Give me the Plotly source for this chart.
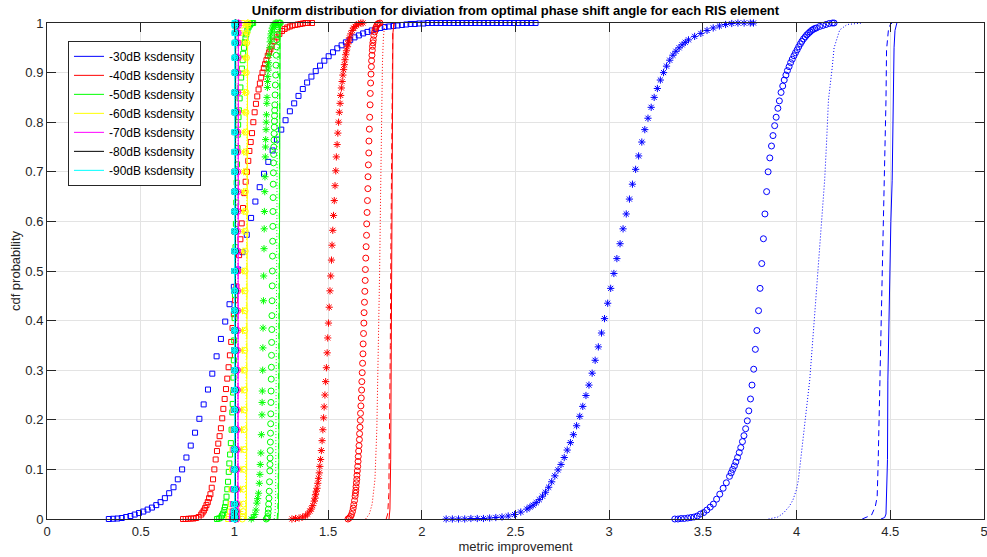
import plotly.graph_objects as go

# ---------------- shared y levels (cdf probabilities) ----------------
LEVELS = [0, 0.005, 0.015, 0.03, 0.06, 0.1, 0.14, 0.18, 0.22, 0.26, 0.3, 0.34, 0.38, 0.42, 0.46, 0.5,
          0.54, 0.58, 0.62, 0.66, 0.7, 0.74, 0.78, 0.82, 0.86, 0.9, 0.93, 0.96, 0.98, 0.995, 1]
LINE_LEVELS = [0, 0.02, 0.1, 0.25, 0.5, 0.75, 0.9, 0.98, 1]

LEGEND_NAMES = ["-30dB ksdensity", "-40dB ksdensity", "-50dB ksdensity", "-60dB ksdensity",
                "-70dB ksdensity", "-80dB ksdensity", "-90dB ksdensity"]
COLORS = ["#0000ff", "#ff0000", "#00ff00", "#ffff00", "#ff00ff", "#000000", "#00ffff"]

X_TICKS = [0, 0.5, 1, 1.5, 2, 2.5, 3, 3.5, 4, 4.5, 5]
Y_TICKS = [0, 0.1, 0.2, 0.3, 0.4, 0.5, 0.6, 0.7, 0.8, 0.9, 1]

# ---------------- -30 dB ----------------
db30_solid_x = [4.45, 4.47, 4.477, 4.48, 4.485, 4.487, 4.495, 4.503, 4.51, 4.515, 4.52, 4.525, 4.535]
db30_solid_y = [0, 0.003, 0.01, 0.04, 0.12, 0.28, 0.45, 0.6, 0.683, 0.845, 0.95, 0.985, 1]
db30_dash_x = [4.35, 4.4, 4.42, 4.43, 4.435, 4.445, 4.455, 4.467, 4.477, 4.48, 4.49, 4.5, 4.51]
db30_dash_y = [0, 0.008, 0.025, 0.045, 0.11, 0.28, 0.5, 0.683, 0.845, 0.946, 0.986, 0.997, 1]
db30_dot_x = [3.85, 3.9, 3.93, 3.96, 3.98, 4.0, 4.01, 4.03, 4.045, 4.07, 4.1, 4.12, 4.14, 4.15, 4.16,
              4.17, 4.19, 4.2, 4.23, 4.27, 4.35]
db30_dot_y = [0, 0.004, 0.012, 0.025, 0.038, 0.06, 0.08, 0.145, 0.2, 0.28, 0.43, 0.53, 0.63, 0.685, 0.76,
              0.845, 0.91, 0.95, 0.986, 0.997, 1]
db30_circ_x = [3.350, 3.367, 3.384, 3.401, 3.419, 3.436, 3.453, 3.470, 3.487, 3.504, 3.521, 3.539, 3.556,
               3.573, 3.590, 3.608, 3.625, 3.642,
               3.651, 3.659, 3.668, 3.676, 3.685, 3.694, 3.702, 3.711, 3.719, 3.728,
               3.737, 3.745, 3.754, 3.762, 3.771, 3.780, 3.788, 3.797, 3.805, 3.814,
               3.823, 3.831, 3.840, 3.848, 3.857, 3.866, 3.874, 3.883, 3.891, 3.900,
               3.908, 3.917, 3.926, 3.934, 3.943, 3.951, 3.960, 3.968, 3.977, 3.986,
               3.994, 4.003, 4.011, 4.020, 4.028, 4.037, 4.046, 4.054, 4.063, 4.071,
               4.080, 4.088, 4.097, 4.106, 4.123, 4.140, 4.157, 4.174, 4.191, 4.200]
db30_circ_y = [0, 0, 0.001, 0.001, 0.002, 0.003, 0.004, 0.006, 0.01, 0.013, 0.018, 0.024, 0.03,
               0.04, 0.05, 0.062, 0.073, 0.086,
               0.093, 0.1, 0.107, 0.115, 0.124, 0.134, 0.144, 0.156, 0.168, 0.182,
               0.198, 0.218, 0.242, 0.27, 0.302, 0.342, 0.38, 0.42, 0.465, 0.515,
               0.565, 0.615, 0.66, 0.7, 0.728, 0.752, 0.773, 0.793, 0.81, 0.828,
               0.843, 0.86, 0.873, 0.885, 0.895, 0.904, 0.912, 0.92, 0.927, 0.934,
               0.94, 0.946, 0.952, 0.958, 0.963, 0.968, 0.972, 0.976, 0.979, 0.982,
               0.985, 0.987, 0.989, 0.99, 0.993, 0.995, 0.997, 0.999, 1, 1]
db30_star_x = [2.130, 2.163, 2.196, 2.229, 2.262, 2.296, 2.329, 2.362, 2.395, 2.428,
               2.461, 2.495, 2.528, 2.561,
               2.577, 2.594, 2.611, 2.627, 2.644, 2.660, 2.677, 2.693, 2.710, 2.727,
               2.743, 2.760, 2.776, 2.793, 2.809, 2.826, 2.843, 2.859, 2.876, 2.892,
               2.909, 2.925, 2.942, 2.959, 2.975, 2.992, 3.008, 3.025, 3.041, 3.058,
               3.074, 3.091, 3.108, 3.124, 3.141, 3.157, 3.174, 3.190, 3.207, 3.224,
               3.240, 3.257, 3.273, 3.290, 3.306, 3.323, 3.340, 3.356, 3.373, 3.389,
               3.406, 3.423,
               3.456, 3.489, 3.522, 3.555, 3.588, 3.621, 3.654, 3.687, 3.720, 3.753, 3.770]
db30_star_y = [0, 0, 0, 0, 0.001, 0.001, 0.001, 0.002, 0.003, 0.004,
               0.006, 0.009, 0.014, 0.02,
               0.024, 0.028, 0.033, 0.039, 0.046, 0.054, 0.064, 0.075, 0.087, 0.099,
               0.11, 0.124, 0.139, 0.154, 0.17, 0.188, 0.207, 0.227, 0.249, 0.27,
               0.294, 0.32, 0.347, 0.375, 0.404, 0.435, 0.465, 0.495, 0.525, 0.555,
               0.585, 0.615, 0.645, 0.675, 0.705, 0.732, 0.76, 0.785, 0.808, 0.83,
               0.85, 0.868, 0.885, 0.9, 0.913, 0.925, 0.935, 0.943, 0.95, 0.956,
               0.961, 0.966,
               0.973, 0.979, 0.985, 0.99, 0.994, 0.997, 0.999, 1, 1, 1, 1]
db30_sq_x = [0.330, 0.353, 0.376, 0.399, 0.422, 0.445, 0.468, 0.491, 0.514, 0.537,
             0.560, 0.583, 0.606, 0.629, 0.652, 0.675, 0.698, 0.721, 0.744, 0.767,
             0.790, 0.813, 0.836, 0.859, 0.882, 0.905, 0.928, 0.951, 0.974, 0.997,
             1.020, 1.043, 1.066, 1.089, 1.112, 1.135, 1.158, 1.181, 1.204, 1.227,
             1.250, 1.273, 1.296, 1.319, 1.342, 1.365, 1.388, 1.411, 1.434, 1.457,
             1.480, 1.503, 1.526, 1.549, 1.572, 1.595, 1.618, 1.641, 1.664, 1.687,
             1.710, 1.733, 1.756, 1.779, 1.802, 1.825, 1.848, 1.871, 1.894, 1.917,
             1.940, 1.963, 1.986, 2.009, 2.032, 2.055, 2.078, 2.101, 2.124, 2.147,
             2.170, 2.193, 2.216, 2.239, 2.262, 2.285, 2.308, 2.331, 2.354, 2.377,
             2.400, 2.423, 2.446, 2.469, 2.492, 2.515, 2.538, 2.561, 2.584, 2.607]
db30_sq_y = [0, 0.0005, 0.001, 0.002, 0.004, 0.006, 0.009, 0.012, 0.015, 0.019,
             0.023, 0.028, 0.034, 0.042, 0.052, 0.064, 0.08, 0.1, 0.124, 0.148,
             0.174, 0.202, 0.231, 0.261, 0.293, 0.328, 0.363, 0.398, 0.433, 0.468,
             0.503, 0.538, 0.573, 0.607, 0.64, 0.669, 0.696, 0.72, 0.743, 0.765,
             0.785, 0.804, 0.822, 0.838, 0.853, 0.867, 0.88, 0.892, 0.903, 0.914,
             0.924, 0.933, 0.941, 0.949, 0.955, 0.961, 0.966, 0.971, 0.975, 0.979,
             0.982, 0.985, 0.988, 0.99, 0.992, 0.993, 0.994, 0.995, 0.996, 0.997,
             0.998, 0.998, 0.999, 0.999, 1, 1, 1, 1, 1, 1,
             1, 1, 1, 1, 1, 1, 1, 1, 1, 1,
             1, 1, 1, 1, 1, 1, 1, 1, 1, 1]

# ---------------- -40 dB ----------------
db40_solid_x = [1.825, 1.83, 1.834, 1.837, 1.839, 1.841, 1.843, 1.846, 1.852]
db40_solid_y = [0, 0.02, 0.12, 0.35, 0.55, 0.75, 0.9, 0.98, 1]
db40_dash_x = [1.81, 1.818, 1.824, 1.828, 1.832, 1.835, 1.838, 1.841, 1.845, 1.852]
db40_dash_y = [0, 0.01, 0.05, 0.15, 0.35, 0.55, 0.75, 0.9, 0.98, 1]
db40_dot_x = [1.70, 1.72, 1.735, 1.75, 1.76, 1.77, 1.775, 1.78, 1.785, 1.79, 1.795, 1.80, 1.81]
db40_dot_y = [0, 0.01, 0.03, 0.08, 0.18, 0.35, 0.5, 0.65, 0.8, 0.92, 0.97, 0.99, 1]
db40_circ_x = [1.606, 1.613, 1.620, 1.625, 1.630, 1.634, 1.637, 1.641, 1.644, 1.646, 1.648, 1.649,
               1.651, 1.653, 1.654, 1.656, 1.658, 1.660, 1.661, 1.663, 1.665, 1.667, 1.668, 1.670,
               1.672, 1.673, 1.675, 1.677, 1.679, 1.680, 1.682, 1.684, 1.686, 1.687, 1.689, 1.691,
               1.692, 1.694, 1.696, 1.698, 1.699, 1.701, 1.703, 1.705, 1.706, 1.708, 1.710, 1.712,
               1.713, 1.715, 1.717, 1.718, 1.720, 1.722, 1.724, 1.725, 1.727, 1.729, 1.731, 1.732,
               1.734, 1.736, 1.737, 1.739, 1.741, 1.744, 1.748, 1.751, 1.755, 1.760, 1.765, 1.770, 1.777]
db40_circ_y = [0, 0.002, 0.005, 0.009, 0.015, 0.022, 0.029, 0.037, 0.046, 0.052, 0.058, 0.065,
               0.073, 0.08, 0.088, 0.097, 0.106, 0.116, 0.126, 0.137, 0.148, 0.16, 0.172, 0.185,
               0.199, 0.213, 0.228, 0.244, 0.26, 0.277, 0.295, 0.314, 0.333, 0.353, 0.374, 0.395,
               0.416, 0.437, 0.459, 0.481, 0.503, 0.526, 0.549, 0.572, 0.595, 0.618, 0.642, 0.666,
               0.69, 0.714, 0.738, 0.762, 0.786, 0.81, 0.835, 0.858, 0.879, 0.897, 0.912, 0.924,
               0.935, 0.945, 0.953, 0.96, 0.966, 0.975, 0.982, 0.987, 0.991, 0.995, 0.998, 0.999, 1]
db40_star_x = [1.307, 1.326, 1.345, 1.364, 1.380, 1.391, 1.403, 1.410, 1.418, 1.426,
               1.430, 1.433, 1.437, 1.441, 1.445, 1.449, 1.453, 1.456, 1.460, 1.464,
               1.468, 1.472, 1.476, 1.479, 1.483, 1.487, 1.491, 1.495, 1.498, 1.502,
               1.506, 1.510, 1.514, 1.518, 1.521, 1.525, 1.529, 1.533, 1.537, 1.541,
               1.544, 1.548, 1.552, 1.556, 1.560, 1.564, 1.567, 1.571, 1.575, 1.579,
               1.583, 1.587, 1.590, 1.594, 1.598, 1.602, 1.606, 1.610, 1.614, 1.621,
               1.629, 1.636, 1.644, 1.652, 1.663, 1.675, 1.686]
db40_star_y = [0, 0.001, 0.002, 0.004, 0.006, 0.01, 0.016, 0.02, 0.027, 0.036,
               0.042, 0.049, 0.056, 0.062, 0.072, 0.082, 0.093, 0.106, 0.12, 0.138,
               0.158, 0.18, 0.204, 0.226, 0.25, 0.277, 0.305, 0.335, 0.365, 0.395,
               0.427, 0.46, 0.49, 0.522, 0.552, 0.582, 0.612, 0.642, 0.672, 0.702,
               0.73, 0.755, 0.778, 0.8, 0.82, 0.838, 0.854, 0.869, 0.882, 0.895,
               0.906, 0.916, 0.926, 0.936, 0.944, 0.952, 0.958, 0.964, 0.97, 0.978,
               0.985, 0.99, 0.993, 0.996, 0.998, 1, 1]
db40_sq_x = [0.726, 0.740, 0.754, 0.768, 0.782, 0.796, 0.809, 0.823, 0.830, 0.837,
             0.844, 0.851, 0.858, 0.865, 0.872, 0.879, 0.886, 0.893, 0.900, 0.907,
             0.914, 0.921, 0.928, 0.935, 0.941, 0.948, 0.955, 0.962, 0.969, 0.976,
             0.983, 0.990, 0.997, 1.004, 1.011, 1.018, 1.025, 1.032, 1.039, 1.046,
             1.053, 1.060, 1.067, 1.074, 1.080, 1.087, 1.094, 1.101, 1.108, 1.115,
             1.122, 1.129, 1.136, 1.143, 1.150, 1.157, 1.164, 1.171, 1.178, 1.185,
             1.192, 1.199, 1.213, 1.226, 1.240, 1.254, 1.268, 1.282, 1.296, 1.310,
             1.324, 1.338, 1.352, 1.365, 1.379, 1.393, 1.414]
db40_sq_y = [0, 0, 0.0005, 0.001, 0.001, 0.002, 0.004, 0.009, 0.013, 0.017,
             0.022, 0.028, 0.034, 0.042, 0.05, 0.063, 0.08, 0.1, 0.12, 0.137,
             0.152, 0.167, 0.183, 0.203, 0.222, 0.242, 0.262, 0.283, 0.306, 0.33,
             0.357, 0.385, 0.413, 0.441, 0.469, 0.5, 0.532, 0.564, 0.596, 0.627,
             0.657, 0.68, 0.7, 0.722, 0.742, 0.76, 0.778, 0.8, 0.82, 0.837,
             0.852, 0.866, 0.878, 0.89, 0.9, 0.909, 0.917, 0.925, 0.934, 0.941,
             0.947, 0.953, 0.963, 0.971, 0.978, 0.984, 0.988, 0.991, 0.993, 0.995,
             0.996, 0.997, 0.998, 0.999, 1, 1, 1]

# ---------------- -50 dB ----------------
db50_solid_x = [1.232, 1.235, 1.237, 1.239, 1.240, 1.241, 1.242, 1.244, 1.248]
db50_solid_y = [0, 0.02, 0.12, 0.35, 0.55, 0.75, 0.9, 0.98, 1]
db50_dash_x = [1.228, 1.232, 1.235, 1.237, 1.238, 1.239, 1.241, 1.243, 1.247]
db50_dash_y = [0, 0.02, 0.12, 0.35, 0.55, 0.75, 0.9, 0.98, 1]
db50_dot_x = [1.212, 1.217, 1.220, 1.222, 1.224, 1.226, 1.228, 1.230, 1.233, 1.238]
db50_dot_y = [0, 0.01, 0.05, 0.15, 0.35, 0.55, 0.75, 0.9, 0.98, 1]
db50_circ_x = [1.1700, 1.1746, 1.1776, 1.1799, 1.1814, 1.1829, 1.1844, 1.1860, 1.1875, 1.1890,
               1.1898, 1.1905, 1.1913, 1.1920, 1.1928, 1.1936, 1.1943, 1.1951, 1.1958, 1.1966,
               1.1974, 1.1981, 1.1989, 1.1996, 1.2004, 1.2012, 1.2019, 1.2027, 1.2034, 1.2042,
               1.2050, 1.2057, 1.2065, 1.2072, 1.2080, 1.2088, 1.2095, 1.2103, 1.2110, 1.2118,
               1.2126, 1.2133, 1.2141, 1.2148, 1.2156, 1.2171, 1.2186, 1.2202, 1.2217, 1.2232,
               1.2247, 1.2262, 1.2278, 1.2293, 1.2316, 1.2338, 1.2369, 1.2399, 1.2450]
db50_circ_y = [0, 0.002, 0.005, 0.012, 0.02, 0.03, 0.042, 0.056, 0.075, 0.097,
               0.11, 0.123, 0.138, 0.155, 0.173, 0.192, 0.212, 0.235, 0.258, 0.282,
               0.306, 0.33, 0.356, 0.382, 0.41, 0.44, 0.47, 0.5, 0.53, 0.56,
               0.59, 0.62, 0.648, 0.675, 0.698, 0.718, 0.735, 0.75, 0.764, 0.777,
               0.79, 0.802, 0.813, 0.824, 0.835, 0.855, 0.875, 0.895, 0.915, 0.935,
               0.952, 0.966, 0.977, 0.985, 0.992, 0.996, 0.999, 1, 1]
db50_star_x = [1.090, 1.100, 1.109, 1.115, 1.120, 1.124, 1.129, 1.133, 1.136, 1.138,
               1.141, 1.144, 1.147, 1.148, 1.149, 1.151, 1.152, 1.153, 1.155, 1.156,
               1.158, 1.159, 1.160, 1.162, 1.163, 1.165, 1.166, 1.167, 1.169, 1.170,
               1.171, 1.173, 1.174, 1.176, 1.177, 1.178, 1.180, 1.181, 1.182, 1.185,
               1.188, 1.191, 1.193, 1.196, 1.199, 1.203, 1.207, 1.211, 1.217, 1.221, 1.227]
db50_star_y = [0, 0.003, 0.009, 0.018, 0.032, 0.041, 0.052, 0.072, 0.09, 0.11,
               0.133, 0.17, 0.21, 0.235, 0.258, 0.3, 0.345, 0.385, 0.44, 0.49,
               0.545, 0.585, 0.62, 0.66, 0.69, 0.73, 0.75, 0.765, 0.785, 0.8,
               0.815, 0.838, 0.85, 0.87, 0.882, 0.892, 0.905, 0.913, 0.92, 0.935,
               0.95, 0.962, 0.97, 0.978, 0.984, 0.99, 0.994, 0.996, 0.999, 1, 1]
db50_sq_x = [0.907, 0.917, 0.927, 0.934, 0.940, 0.946, 0.950, 0.954, 0.958, 0.962,
             0.966, 0.970, 0.973, 0.977, 0.981, 0.985, 0.989, 0.991, 0.993, 0.995,
             0.997, 0.999, 1.001, 1.003, 1.005, 1.006, 1.008, 1.010, 1.012, 1.014,
             1.016, 1.018, 1.020, 1.022, 1.024, 1.028, 1.032, 1.036, 1.040, 1.044,
             1.047, 1.051, 1.055, 1.059, 1.063, 1.069, 1.075, 1.081, 1.086, 1.094, 1.100]
db50_sq_y = [0, 0.001, 0.003, 0.007, 0.011, 0.018, 0.024, 0.033, 0.045, 0.06,
             0.075, 0.095, 0.112, 0.13, 0.153, 0.18, 0.215, 0.232, 0.255, 0.285,
             0.32, 0.36, 0.405, 0.452, 0.5, 0.548, 0.595, 0.638, 0.678, 0.715,
             0.748, 0.775, 0.795, 0.81, 0.824, 0.848, 0.87, 0.89, 0.908, 0.925,
             0.938, 0.95, 0.961, 0.97, 0.977, 0.985, 0.991, 0.995, 0.998, 1, 1]

# ---------------- -60 dB ----------------
db60_solid_x = [1.0634, 1.0645, 1.0655, 1.0662, 1.067, 1.0678, 1.0685, 1.0695, 1.0706]
db60_dash_x = [1.0615, 1.0629, 1.0641, 1.065, 1.066, 1.067, 1.0679, 1.0691, 1.0705]
db60_dot_x = [1.057, 1.059, 1.0604, 1.0617, 1.063, 1.0643, 1.0656, 1.0671, 1.069]
db60_circ_x = [1.042, 1.044, 1.046, 1.048, 1.049, 1.051, 1.052, 1.052, 1.053, 1.054,
               1.054, 1.055, 1.055, 1.056, 1.0565, 1.057, 1.0575, 1.058, 1.0585, 1.059,
               1.0596, 1.060, 1.061, 1.0616, 1.0624, 1.0634, 1.0644, 1.0658, 1.0673, 1.070, 1.073]
db60_star_x = [1.021, 1.024, 1.028, 1.030, 1.033, 1.035, 1.036, 1.038, 1.039, 1.040,
               1.041, 1.042, 1.043, 1.043, 1.044, 1.045, 1.046, 1.047, 1.047, 1.048,
               1.049, 1.050, 1.051, 1.052, 1.054, 1.055, 1.057, 1.059, 1.061, 1.066, 1.071]
db60_sq_x = [0.967, 0.972, 0.977, 0.980, 0.984, 0.988, 0.990, 0.992, 0.994, 0.995,
             0.997, 0.998, 0.999, 1.001, 1.002, 1.003, 1.004, 1.005, 1.007, 1.008,
             1.009, 1.011, 1.012, 1.014, 1.016, 1.018, 1.021, 1.024, 1.028, 1.034, 1.041]

# ---------------- -70 dB ----------------
db70_solid_x = [1.0188, 1.0192, 1.0195, 1.0197, 1.02, 1.0203, 1.0205, 1.0208, 1.0212]
db70_dash_x = [1.018, 1.0185, 1.0189, 1.0192, 1.0195, 1.0198, 1.0201, 1.0205, 1.021]
db70_dot_x = [1.0161, 1.0169, 1.0175, 1.018, 1.0185, 1.019, 1.0195, 1.0201, 1.0209]
db70_circ_x = [1.0122, 1.0129, 1.0135, 1.014, 1.0145, 1.015, 1.0153, 1.0155, 1.0158, 1.016,
               1.0162, 1.0163, 1.0165, 1.0167, 1.0168, 1.017, 1.0172, 1.0173, 1.0175, 1.0177,
               1.0178, 1.018, 1.0182, 1.0185, 1.0187, 1.019, 1.0194, 1.0198, 1.0203, 1.0211, 1.0221]
db70_star_x = [1.0055, 1.0066, 1.0076, 1.0083, 1.0091, 1.0098, 1.0103, 1.0107, 1.0111, 1.0114,
               1.0117, 1.012, 1.0122, 1.0125, 1.0128, 1.013, 1.0133, 1.0135, 1.0138, 1.014,
               1.0143, 1.0146, 1.0149, 1.0153, 1.0157, 1.0162, 1.0167, 1.0174, 1.0181, 1.0195, 1.021]
db70_sq_x = [0.9865, 0.9884, 0.9902, 0.9915, 0.993, 0.9942, 0.9951, 0.9959, 0.9965, 0.9971,
             0.9977, 0.9982, 0.9986, 0.9991, 0.9996, 1.0, 1.0005, 1.0009, 1.0014, 1.0018,
             1.0023, 1.0029, 1.0035, 1.0041, 1.0049, 1.0058, 1.0067, 1.0079, 1.0092, 1.0116, 1.0144]

# ---------------- -80 dB ----------------
db80_solid_x = [1.0055, 1.0057, 1.0058, 1.0059, 1.006, 1.0061, 1.0062, 1.0063, 1.0065]
db80_dash_x = [1.0052, 1.0054, 1.0056, 1.0057, 1.0058, 1.0059, 1.006, 1.0062, 1.0064]
db80_dot_x = [1.0047, 1.0049, 1.0051, 1.0053, 1.0055, 1.0057, 1.0059, 1.0061, 1.0063]
db80_circ_x = [1.0035, 1.0037, 1.0039, 1.0041, 1.0042, 1.0044, 1.0045, 1.0045, 1.0046, 1.0047,
               1.0047, 1.0048, 1.0048, 1.0049, 1.005, 1.005, 1.005, 1.0051, 1.0052, 1.0052,
               1.0053, 1.0053, 1.0054, 1.0055, 1.0055, 1.0056, 1.0057, 1.0059, 1.006, 1.0063, 1.0066]
db80_star_x = [1.0016, 1.0019, 1.0023, 1.0025, 1.0028, 1.003, 1.0031, 1.0033, 1.0034, 1.0035,
               1.0036, 1.0037, 1.0038, 1.0038, 1.0039, 1.004, 1.0041, 1.0042, 1.0042, 1.0043,
               1.0044, 1.0045, 1.0046, 1.0047, 1.0049, 1.005, 1.0052, 1.0054, 1.0056, 1.0061, 1.0066]
db80_sq_x = [0.9958, 0.9964, 0.997, 0.9974, 0.9978, 0.9982, 0.9985, 0.9987, 0.9989, 0.9991,
             0.9993, 0.9994, 0.9996, 0.9997, 0.9999, 1.0, 1.0001, 1.0003, 1.0004, 1.0006,
             1.0007, 1.0009, 1.0011, 1.0013, 1.0015, 1.0018, 1.0021, 1.0025, 1.0029, 1.0036, 1.0045]

# ---------------- -90 dB ----------------
db90_solid_x = [1.0017, 1.0017, 1.0018, 1.0018, 1.0019, 1.002, 1.002, 1.0021, 1.0021]
db90_dash_x = [1.0016, 1.0016, 1.0017, 1.0017, 1.0018, 1.0019, 1.0019, 1.002, 1.002]
db90_dot_x = [1.0014, 1.0015, 1.0016, 1.0016, 1.0017, 1.0018, 1.0018, 1.0019, 1.002]
db90_circ_x = [1.0012, 1.0012, 1.0013, 1.0013, 1.0014, 1.0014, 1.0014, 1.0015, 1.0015, 1.0015,
               1.0015, 1.0015, 1.0016, 1.0016, 1.0016, 1.0016, 1.0016, 1.0016, 1.0016, 1.0017,
               1.0017, 1.0017, 1.0017, 1.0017, 1.0018, 1.0018, 1.0018, 1.0019, 1.0019, 1.002, 1.0021]
db90_star_x = [1.0006, 1.0007, 1.0008, 1.0008, 1.0009, 1.001, 1.001, 1.0011, 1.0011, 1.0011,
               1.0012, 1.0012, 1.0012, 1.0013, 1.0013, 1.0013, 1.0013, 1.0014, 1.0014, 1.0014,
               1.0014, 1.0015, 1.0015, 1.0015, 1.0016, 1.0016, 1.0017, 1.0017, 1.0018, 1.0019, 1.002]
db90_sq_x = [0.9985, 0.9987, 0.9989, 0.9991, 0.9992, 0.9994, 0.9995, 0.9995, 0.9996, 0.9997,
             0.9997, 0.9998, 0.9998, 0.9999, 1.0, 1.0, 1.0, 1.0001, 1.0002, 1.0002,
             1.0003, 1.0003, 1.0004, 1.0005, 1.0005, 1.0006, 1.0007, 1.0009, 1.001, 1.0013, 1.0016]

GROUPS = [
    [(db30_solid_x, db30_solid_y, "solid"), (db30_dash_x, db30_dash_y, "dash"),
     (db30_dot_x, db30_dot_y, "dot"), (db30_circ_x, db30_circ_y, "o"),
     (db30_star_x, db30_star_y, "*"), (db30_sq_x, db30_sq_y, "s")],
    [(db40_solid_x, db40_solid_y, "solid"), (db40_dash_x, db40_dash_y, "dash"),
     (db40_dot_x, db40_dot_y, "dot"), (db40_circ_x, db40_circ_y, "o"),
     (db40_star_x, db40_star_y, "*"), (db40_sq_x, db40_sq_y, "s")],
    [(db50_solid_x, db50_solid_y, "solid"), (db50_dash_x, db50_dash_y, "dash"),
     (db50_dot_x, db50_dot_y, "dot"), (db50_circ_x, db50_circ_y, "o"),
     (db50_star_x, db50_star_y, "*"), (db50_sq_x, db50_sq_y, "s")],
    [(db60_solid_x, LINE_LEVELS, "solid"), (db60_dash_x, LINE_LEVELS, "dash"),
     (db60_dot_x, LINE_LEVELS, "dot"), (db60_circ_x, LEVELS, "o"),
     (db60_star_x, LEVELS, "*"), (db60_sq_x, LEVELS, "s")],
    [(db70_solid_x, LINE_LEVELS, "solid"), (db70_dash_x, LINE_LEVELS, "dash"),
     (db70_dot_x, LINE_LEVELS, "dot"), (db70_circ_x, LEVELS, "o"),
     (db70_star_x, LEVELS, "*"), (db70_sq_x, LEVELS, "s")],
    [(db80_solid_x, LINE_LEVELS, "solid"), (db80_dash_x, LINE_LEVELS, "dash"),
     (db80_dot_x, LINE_LEVELS, "dot"), (db80_circ_x, LEVELS, "o"),
     (db80_star_x, LEVELS, "*"), (db80_sq_x, LEVELS, "s")],
    [(db90_solid_x, LINE_LEVELS, "solid"), (db90_dash_x, LINE_LEVELS, "dash"),
     (db90_dot_x, LINE_LEVELS, "dot"), (db90_circ_x, LEVELS, "o"),
     (db90_star_x, LEVELS, "*"), (db90_sq_x, LEVELS, "s")],
]

fig = go.Figure()
for gi, group in enumerate(GROUPS):
    color = COLORS[gi]
    for (xs, ys, kind) in group:
        n = min(len(xs), len(ys))
        xs, ys = xs[:n], ys[:n]
        if kind in ("solid", "dash", "dot"):
            dash = {"solid": "solid", "dash": "6px,4px", "dot": "1px,2px"}[kind]
            fig.add_trace(go.Scatter(
                x=xs, y=ys, mode="lines",
                line=dict(color=color, width=1, dash=dash),
                name=LEGEND_NAMES[gi], showlegend=(kind == "solid"),
                cliponaxis=False, hoverinfo="skip"))
        else:
            sym = {"o": "circle-open", "*": "asterisk-open", "s": "square-open"}[kind]
            size = {"o": 6, "*": 6, "s": 5}[kind]
            fig.add_trace(go.Scatter(
                x=xs, y=ys, mode="markers",
                marker=dict(symbol=sym, size=size, color=color, line=dict(color=color, width=1)),
                name=LEGEND_NAMES[gi], showlegend=False,
                cliponaxis=False, hoverinfo="skip"))

FONT = "Liberation Sans, Arial, Helvetica, sans-serif"
AX = "#262626"

fig.update_layout(
    width=987, height=557,
    margin=dict(l=47, r=3, t=23, b=38, autoexpand=False),
    paper_bgcolor="white", plot_bgcolor="white",
    font=dict(family=FONT, size=13, color=AX),
    title=dict(text="<b>Uniform distribution for diviation from optimal phase shift angle for each RIS element</b>",
               x=0.5, xref="paper", xanchor="center", y=0.981, yref="container", yanchor="middle",
               font=dict(family=FONT, size=13, color="black")),
    xaxis=dict(range=[0, 5], tickvals=X_TICKS, ticks="inside", ticklen=9, tickcolor=AX,
               showline=True, linecolor=AX, linewidth=1, mirror="ticks",
               showgrid=True, gridcolor="#e3e3e3", gridwidth=1, zeroline=False,
               tickfont=dict(size=13, color=AX), ticklabeloverflow="allow",
               title=dict(text="metric improvement", standoff=3, font=dict(size=13, color=AX))),
    yaxis=dict(range=[0, 1], tickvals=Y_TICKS, ticks="inside", ticklen=9, tickcolor=AX,
               showline=True, linecolor=AX, linewidth=1, mirror="ticks",
               showgrid=True, gridcolor="#e3e3e3", gridwidth=1, zeroline=False,
               tickfont=dict(size=13, color=AX),
               title=dict(text="cdf probability", standoff=1, font=dict(size=13, color=AX))),
    legend=dict(x=0.0224, y=0.964, xanchor="left", yanchor="top",
                bgcolor="white", bordercolor="#262626", borderwidth=1,
                font=dict(family=FONT, size=12, color="black"),
                itemwidth=30, tracegroupgap=0),
    showlegend=True,
)

fig.write_html("out.html")
